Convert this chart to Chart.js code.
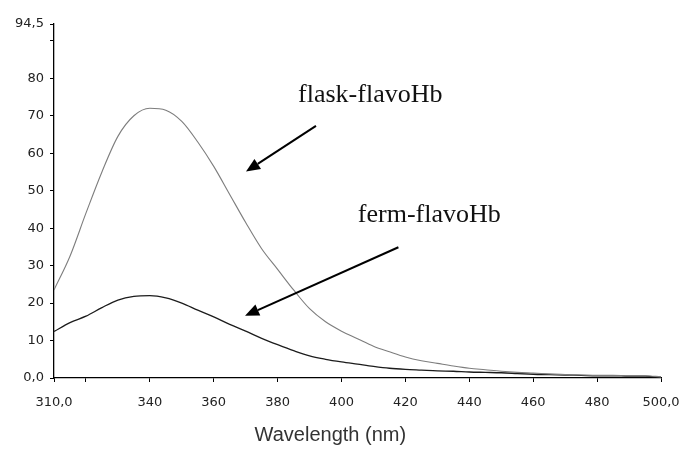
<!DOCTYPE html>
<html>
<head>
<meta charset="utf-8">
<script src="https://cdn.jsdelivr.net/npm/chart.js@4/dist/chart.umd.min.js"></script>
<style>
html,body{margin:0;padding:0;background:#fff;}
#wrap{width:685px;height:451px;position:relative;}
</style>
</head>
<body>
<div id="wrap"><canvas id="c" width="685" height="451"></canvas></div>
<script>
// ---- data ----
const wavelengths = [310,315,320,325,330,335,340,345,350,355,360,365,370,375,380,385,390,395,400,405,410,415,420,425,430,435,440,445,450,455,460,465,470,475,480,485,490,495,500];
const flaskValues = [23.5,32.5,44,55,64.5,70,72,71.5,68.5,63,56.5,49,41.5,34.5,29,23.5,18.5,15,12.5,10.5,8.5,7,5.6,4.6,3.9,3.2,2.6,2.2,1.8,1.5,1.3,1.1,0.9,0.8,0.7,0.7,0.6,0.6,0.3];
const fermValues  = [12.4,14.8,16.5,18.8,20.8,21.8,22,21.4,20,18.1,16.3,14.3,12.5,10.6,8.9,7.3,5.9,5,4.3,3.7,3.1,2.6,2.3,2.1,1.9,1.8,1.6,1.5,1.4,1.2,1.0,0.9,0.8,0.7,0.6,0.6,0.5,0.5,0.2];
const xTicks = [310,320,340,360,380,400,420,440,460,480,500];
const xTickLabels = ["310,0","","340","360","380","400","420","440","460","480","500,0"];
const yTicks = [0,10,20,30,40,50,60,70,80,90,94.5];
const yTickLabels = ["0,0","10","20","30","40","50","60","70","80","","94,5"];
const seriesNames = ["flask-flavoHb","ferm-flavoHb"];
// annotation anchors in data units: [text x, text y, arrow start x, arrow start y, arrow tip x, arrow tip y]
const flaskNote = [386.4, 73.8, 392, 67.3, 370.1, 55.1];
const fermNote  = [405.1, 41.6, 417.8, 34.9, 369.8, 16.6];
const axisTitle = "Wavelength (nm)";
const axisTitleCenter = 396.5;

function toPts(xs, ys){ return xs.map((x,i)=>({x:x, y:ys[i]})); }

const notesPlugin = {
  id:'notes',
  afterDatasetsDraw(chart){
    const ctx = chart.ctx, xs = chart.scales.x, ys = chart.scales.y;
    ctx.save();
    [[flaskNote, seriesNames[0]],[fermNote, seriesNames[1]]].forEach(([n,label])=>{
      ctx.fillStyle = '#111';
      ctx.font = '26px "Liberation Serif", "Times New Roman", serif';
      ctx.textBaseline = 'alphabetic';
      ctx.textAlign = 'left';
      ctx.fillText(label, xs.getPixelForValue(n[0]), ys.getPixelForValue(n[1]));
      const x1 = xs.getPixelForValue(n[2]), y1 = ys.getPixelForValue(n[3]);
      const x2 = xs.getPixelForValue(n[4]), y2 = ys.getPixelForValue(n[5]);
      const ang = Math.atan2(y2-y1, x2-x1);
      const hl = 14, hw = 6;
      const bx = x2 - hl*Math.cos(ang), by = y2 - hl*Math.sin(ang);
      ctx.strokeStyle = '#000';
      ctx.lineWidth = 2;
      ctx.beginPath(); ctx.moveTo(x1,y1); ctx.lineTo(bx,by); ctx.stroke();
      ctx.fillStyle = '#000';
      ctx.beginPath();
      ctx.moveTo(x2,y2);
      ctx.lineTo(bx + hw*Math.sin(ang), by - hw*Math.cos(ang));
      ctx.lineTo(bx - hw*Math.sin(ang), by + hw*Math.cos(ang));
      ctx.closePath(); ctx.fill();
    });
    // axis title
    ctx.fillStyle = '#333';
    ctx.font = '20px "Liberation Sans", Arial, sans-serif';
    ctx.textAlign = 'center';
    ctx.textBaseline = 'middle';
    ctx.fillText(axisTitle, xs.getPixelForValue(axisTitleCenter), 435);
    ctx.restore();
  }
};

new Chart(document.getElementById('c'), {
  type:'line',
  data:{
    datasets:[
      {label:seriesNames[0], data:toPts(wavelengths, flaskValues), borderColor:'#7d7d7d', borderWidth:1.1, pointRadius:0, cubicInterpolationMode:'monotone', fill:false},
      {label:seriesNames[1], data:toPts(wavelengths, fermValues), borderColor:'#1c1c1c', borderWidth:1.3, pointRadius:0, cubicInterpolationMode:'monotone', fill:false}
    ]
  },
  options:{
    responsive:false,
    animation:false,
    layout:{padding:{top:24,right:24,left:0,bottom:0}},
    plugins:{legend:{display:false}, tooltip:{enabled:false}},
    scales:{
      x:{
        type:'linear', min:310, max:500,
        afterBuildTicks(s){ s.ticks = xTicks.map(v=>({value:v})); },
        afterFit(s){ s.height = 73; s.paddingLeft = 0; s.paddingRight = 0; },
        ticks:{
          autoSkip:false, maxRotation:0, padding:13,
          color:'#222', font:{family:'"DejaVu Sans", sans-serif', size:13},
          callback(v){ const i = xTicks.indexOf(v); return i>=0 ? xTickLabels[i] : ''; }
        },
        grid:{display:true, drawOnChartArea:false, drawTicks:true, tickLength:4, color:'#000', lineWidth:1},
        border:{display:true, color:'#000', width:1.3}
      },
      y:{
        type:'linear', min:0, max:94.5,
        afterBuildTicks(s){ s.ticks = yTicks.map(v=>({value:v})); },
        afterFit(s){ s.width = 54; s.paddingTop = 0; s.paddingBottom = 0; },
        ticks:{
          autoSkip:false, padding:6,
          color:'#222', font:{family:'"DejaVu Sans", sans-serif', size:13},
          callback(v){ const i = yTicks.indexOf(v); return i>=0 ? yTickLabels[i] : ''; }
        },
        grid:{display:true, drawOnChartArea:false, drawTicks:true, tickLength:4, color:'#000', lineWidth:1},
        border:{display:true, color:'#000', width:1.3}
      }
    }
  },
  plugins:[notesPlugin]
});
</script>
</body>
</html>
